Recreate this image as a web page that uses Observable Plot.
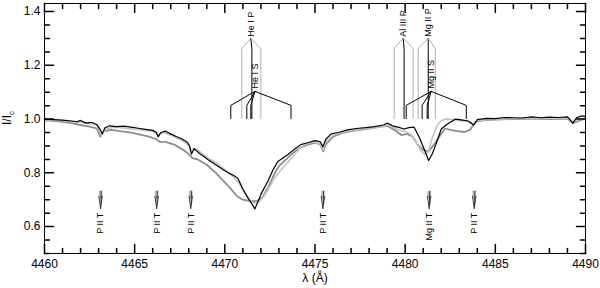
<!DOCTYPE html>
<html><head><meta charset="utf-8">
<script src="https://cdn.jsdelivr.net/npm/d3@7"></script>
<script src="https://cdn.jsdelivr.net/npm/@observablehq/plot@0.6"></script>
<style>body{margin:0;background:#fff;}</style>
</head><body><div id="chart"></div>
<script>
// ---- spectra ----
const blackWave = [4460.0,4460.5,4461.0,4461.5,4461.8,4462.0,4462.3,4462.6,4462.9,4463.1,4463.2,4463.35,4463.6,4464.0,4464.4,4464.8,4465.2,4465.6,4466.0,4466.2,4466.3,4466.45,4466.7,4467.0,4467.3,4467.6,4467.9,4468.05,4468.15,4468.3,4468.6,4469.06,4469.5,4470.0,4470.2,4470.5,4470.72,4471.0,4471.3,4471.67,4472.0,4472.39,4472.7,4472.94,4473.5,4473.9,4474.2,4474.6,4475.0,4475.3,4475.44,4475.6,4475.9,4476.3,4476.8,4477.3,4477.8,4478.3,4478.8,4479.0,4479.3,4479.6,4479.95,4480.2,4480.5,4480.8,4481.1,4481.3,4481.5,4481.7,4482.0,4482.3,4482.8,4483.2,4483.5,4483.8,4484.0,4484.5,4485.0,4485.5,4486.0,4486.5,4487.0,4487.5,4488.0,4488.5,4489.0,4489.3,4489.5,4489.8,4490.0];
const blackFlux = [1.000,0.998,0.996,0.993,0.990,0.995,0.985,0.988,0.980,0.960,0.945,0.968,0.975,0.972,0.974,0.970,0.966,0.962,0.958,0.950,0.934,0.950,0.955,0.945,0.935,0.927,0.915,0.900,0.870,0.890,0.872,0.850,0.830,0.808,0.800,0.790,0.780,0.740,0.705,0.666,0.720,0.770,0.815,0.842,0.868,0.890,0.905,0.912,0.920,0.915,0.897,0.925,0.945,0.950,0.960,0.965,0.968,0.972,0.978,0.985,0.975,0.970,0.963,0.968,0.970,0.930,0.880,0.846,0.870,0.905,0.963,0.980,1.000,0.996,0.993,0.978,0.998,1.003,1.002,1.006,1.005,1.004,1.008,1.005,1.007,1.006,1.008,0.985,1.005,1.012,1.010];

const lightWave = [4460.0,4461.0,4462.0,4462.9,4463.15,4463.4,4464.0,4465.0,4466.0,4466.3,4466.6,4467.0,4467.6,4468.0,4468.1,4468.3,4468.6,4469.0,4469.5,4470.0,4470.4,4470.8,4471.1,4471.4,4471.6,4471.9,4472.2,4472.5,4472.8,4473.1,4473.5,4473.9,4474.2,4474.6,4475.0,4475.3,4475.45,4475.6,4476.0,4476.5,4477.0,4477.5,4478.0,4478.5,4479.0,4479.4,4479.7,4480.0,4480.3,4480.6,4480.9,4481.1,4481.3,4481.5,4481.8,4482.0,4482.3,4482.6,4483.0,4483.5,4483.8,4484.0,4485.0,4486.0,4487.0,4488.0,4489.0,4489.3,4490.0];
const lightFlux = [0.998,0.994,0.988,0.978,0.940,0.965,0.970,0.962,0.955,0.940,0.950,0.940,0.922,0.900,0.880,0.892,0.880,0.858,0.838,0.812,0.790,0.760,0.725,0.695,0.688,0.692,0.715,0.750,0.785,0.810,0.840,0.870,0.895,0.910,0.915,0.905,0.885,0.915,0.940,0.950,0.958,0.962,0.966,0.970,0.978,0.968,0.958,0.955,0.945,0.915,0.880,0.868,0.880,0.930,0.980,0.995,1.000,0.998,0.995,0.990,0.980,0.995,1.000,1.002,1.003,1.002,1.004,0.990,1.005];

const medWave = [4460.0,4460.5,4461.0,4461.5,4462.0,4462.5,4462.9,4463.1,4463.3,4463.7,4464.2,4464.8,4465.3,4465.8,4466.2,4466.4,4466.7,4467.2,4467.7,4468.0,4468.2,4468.5,4469.0,4469.5,4470.0,4470.4,4470.7,4471.0,4471.4,4471.8,4472.1,4472.4,4472.7,4473.0,4473.4,4473.8,4474.2,4474.6,4475.0,4475.3,4475.45,4475.6,4476.0,4476.5,4477.0,4477.5,4478.0,4478.5,4479.0,4479.4,4479.8,4480.1,4480.4,4480.7,4481.0,4481.3,4481.6,4481.9,4482.2,4482.5,4482.9,4483.3,4483.6,4483.9,4484.3,4485.0,4486.0,4487.0,4488.0,4489.0,4489.3,4490.0];
const medFlux = [0.995,0.993,0.990,0.985,0.978,0.972,0.965,0.935,0.955,0.960,0.955,0.950,0.942,0.935,0.925,0.915,0.915,0.905,0.885,0.870,0.855,0.850,0.830,0.800,0.765,0.735,0.712,0.700,0.695,0.695,0.710,0.745,0.790,0.825,0.850,0.875,0.895,0.905,0.912,0.905,0.880,0.905,0.935,0.948,0.955,0.960,0.965,0.970,0.975,0.960,0.940,0.945,0.935,0.905,0.885,0.880,0.905,0.935,0.965,0.960,0.955,0.952,0.960,0.990,0.995,0.998,1.000,1.002,1.000,1.002,0.985,1.003];

// ---- line identifications ----
const idLabels = ["He I P","He I S","Al III P","Mg II P","Mg II S"];
const idApex   = [4471.44, 4471.67, 4479.89, 4481.28, 4481.44];
const idLevel  = ["P","S","P","P","S"];
const idComp   = [[4470.94,4471.50,4472.00],[4470.33,4471.22,4471.44,4473.67],[4479.39,4479.94,4480.44],[4480.72,4481.28,4481.67],[4480.06,4480.94,4481.22,4483.39]];
const idColor  = [["#b0b0b0","#000","#b0b0b0"],["#000","#000","#000","#000"],["#b0b0b0","#000","#b0b0b0"],["#b0b0b0","#000","#b0b0b0"],["#000","#000","#000","#000"]];
const levelApexY  = {P: 1.300, S: 1.103};
const levelKneeY  = {P: 1.263, S: 1.051};
const levelLabelY = {P: 1.306, S: 1.114};
const idBottomY = 1.002;

const tLabels = ["P II T","P II T","P II T","P II T","Mg II T","P II T"];
const tWave   = [4463.11, 4466.22, 4468.11, 4475.44, 4481.33, 4483.83];
const tArrowY = 0.700;
const tLabelY = 0.652;

// ---- axes ----
const xDomain = [4460, 4490];
const yDomain = [0.5, 1.43];
const xMajor = [4460, 4465, 4470, 4475, 4480, 4485, 4490];
const yMajor = [0.6, 0.8, 1.0, 1.2, 1.4];
const xMinor = d3.range(4461, 4490, 1).filter(v => v % 5 !== 0);
const yMinor = d3.range(10, 29).map(i => i * 0.05).filter(v => Math.abs(v * 5 - Math.round(v * 5)) > 1e-6);

// ---- tables ----
const toRows = (w, f) => w.map((x, i) => ({x, y: f[i]}));
const blackRows = toRows(blackWave, blackFlux);
const lightRows = toRows(lightWave, lightFlux);
const medRows = toRows(medWave, medFlux);

const idLines = [];
idLabels.forEach((lab, g) => {
  const lev = idLevel[g];
  idComp[g].forEach((w, j) => {
    const id = g + "-" + j;
    const c = idColor[g][j];
    idLines.push({id, c, x: idApex[g], y: levelApexY[lev]});
    idLines.push({id, c, x: w, y: levelKneeY[lev]});
    idLines.push({id, c, x: w, y: idBottomY});
  });
});
const idText = idLabels.map((t, g) => ({t, x: idApex[g], y: levelLabelY[idLevel[g]]}));
const tRows = tLabels.map((t, i) => ({t, x: tWave[i]}));

const tickShape = {draw(ctx, l) { ctx.moveTo(0, 0); ctx.lineTo(0, -l); }};
const arrowStripes = {draw(ctx) {
  for (const dx of [-1.6, -0.8, 0, 0.8, 1.6]) { ctx.moveTo(dx, -9); ctx.lineTo(dx * 0.6, -1); }
}};
const arrowHead = {draw(ctx) {
  ctx.moveTo(-1.8, -4); ctx.lineTo(0, 9); ctx.lineTo(1.8, -4);
  ctx.moveTo(0.6, -9); ctx.lineTo(0.3, 5);
}};

const ticks = (vals, len, side) => {
  if (side === "bottom") return Plot.vector(vals, {x: d => d, y: () => yDomain[0], length: len, rotate: 0, anchor: "start", shape: tickShape, stroke: "black"});
  if (side === "top") return Plot.vector(vals, {x: d => d, y: () => yDomain[1], length: len, rotate: 180, anchor: "start", shape: tickShape, stroke: "black"});
  if (side === "left") return Plot.vector(vals, {x: () => xDomain[0], y: d => d, length: len, rotate: 90, anchor: "start", shape: tickShape, stroke: "black"});
  return Plot.vector(vals, {x: () => xDomain[1], y: d => d, length: len, rotate: -90, anchor: "start", shape: tickShape, stroke: "black"});
};

const plot = Plot.plot({
  width: 600, height: 288,
  marginLeft: 44, marginRight: 15, marginTop: 3, marginBottom: 35,
  style: {fontFamily: "'Liberation Sans', Arial, sans-serif", fontSize: "12px", background: "white", color: "black"},
  x: {domain: xDomain},
  y: {domain: yDomain},
  color: {type: "identity"},
  marks: [
    Plot.line(medRows, {x: "x", y: "y", stroke: "#8c8c8c", strokeWidth: 1.8, clip: true}),
    Plot.line(lightRows, {x: "x", y: "y", stroke: "#c4c4c4", strokeWidth: 1.6, clip: true}),
    Plot.line(blackRows, {x: "x", y: "y", stroke: "black", strokeWidth: 1.2, clip: true}),
    Plot.line(idLines, {x: "x", y: "y", z: "id", stroke: "c", strokeWidth: 1}),
    Plot.text(idText, {x: "x", y: "y", text: "t", rotate: -90, textAnchor: "start", lineAnchor: "middle", fontSize: 9, fill: "black"}),
    Plot.dot(tRows, {x: "x", y: () => tArrowY, symbol: arrowStripes, fill: "none", stroke: "#a0a0a0", strokeWidth: 0.6}),
    Plot.dot(tRows, {x: "x", y: () => tArrowY, symbol: arrowHead, fill: "none", stroke: "#111", strokeWidth: 0.8}),
    Plot.text(tRows, {x: "x", y: () => tLabelY, text: "t", rotate: -90, textAnchor: "end", lineAnchor: "middle", fontSize: 9, fill: "black"}),
    Plot.frame({stroke: "black"}),
    ticks(xMajor, 9, "bottom"), ticks(xMinor, 5, "bottom"),
    ticks(xMajor, 9, "top"), ticks(xMinor, 5, "top"),
    ticks(yMajor, 9, "left"), ticks(yMinor, 5, "left"),
    ticks(yMajor, 9, "right"), ticks(yMinor, 5, "right"),
    Plot.axisX({ticks: xMajor, tickSize: 0, tickPadding: 6, label: null, tickFormat: d => String(d)}),
    Plot.axisY({ticks: yMajor, tickSize: 0, tickPadding: 4, label: null, tickFormat: d3.format(".1f")}),
    Plot.text(["λ (Å)"], {text: d => d, frameAnchor: "bottom", dy: 28, fontSize: 12})
  ]
});

const svg = d3.select(plot);
const yl = svg.append("text")
  .attr("transform", "translate(11,118) rotate(-90)")
  .attr("text-anchor", "middle")
  .attr("font-size", 12)
  .attr("fill", "black");
yl.append("tspan").text("I/I");
yl.append("tspan").attr("dy", 3).attr("font-size", 8).text("c");

document.getElementById("chart").appendChild(plot);
</script></body></html>
